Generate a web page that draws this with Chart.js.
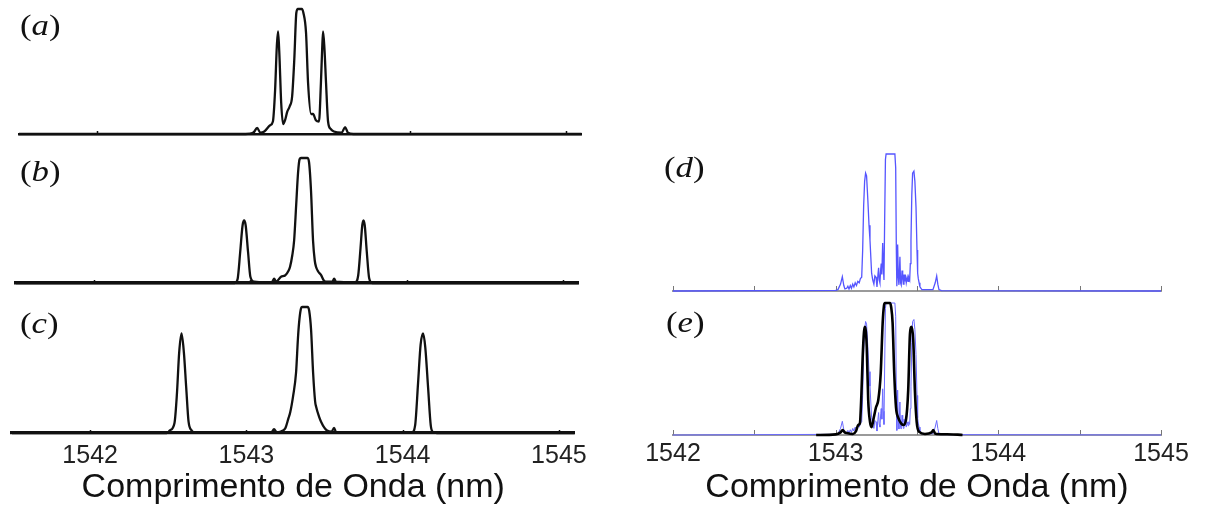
<!DOCTYPE html>
<html><head><meta charset="utf-8">
<script src="https://cdn.jsdelivr.net/npm/chart.js@4.4.1/dist/chart.umd.min.js"></script>
<style>
html,body{margin:0;padding:0;background:#fff;}
#wrap{position:relative;width:1205px;height:510px;overflow:hidden;background:#fff;}
canvas{position:absolute;left:0;top:0;}
.lbl{position:absolute;font-family:"Liberation Serif","DejaVu Serif",serif;font-size:29px;line-height:1;color:#111;transform:scaleX(1.2);transform-origin:left top;white-space:nowrap;}
</style></head><body>
<div id="wrap">
<canvas id="ca" width="1205" height="510"></canvas>
<canvas id="cb" width="1205" height="510"></canvas>
<canvas id="cc" width="1205" height="510"></canvas>
<canvas id="cd" width="1205" height="510"></canvas>
<canvas id="ce" width="1205" height="510"></canvas>
<div class="lbl" style="left:20px;top:11px">(<i>a</i>)</div>
<div class="lbl" style="left:20px;top:157px">(<i>b</i>)</div>
<div class="lbl" style="left:20px;top:309px">(<i>c</i>)</div>
<div class="lbl" style="left:664px;top:153px">(<i>d</i>)</div>
<div class="lbl" style="left:666px;top:308px">(<i>e</i>)</div>
</div>
<script>
// ---- data (wavelength in nm, normalised power) ----
const waveA  = [1541.50,1542.95,1543.00,1543.024,1543.045,1543.07,1543.107,1543.125,1543.139,1543.150,1543.158,1543.166,1543.178,1543.190,1543.205,1543.216,1543.232,1543.248,1543.262,1543.275,1543.285,1543.310,1543.320,1543.337,1543.350,1543.369,1543.382,1543.400,1543.420,1543.432,1543.440,1543.446,1543.455,1543.465,1543.478,1543.495,1543.515,1543.565,1543.587,1543.605,1543.64,1545.10];
const powerA = [0,0,0.01,0.048,0.01,0.02,0.07,0.10,0.35,0.70,0.82,0.65,0.25,0.08,0.12,0.175,0.22,0.30,0.60,0.97,1.0,1.0,0.97,0.81,0.41,0.16,0.16,0.11,0.10,0.40,0.67,0.82,0.68,0.41,0.10,0.04,0.02,0.01,0.055,0.01,0,0];

const waveB  = [1541.50,1542.90,1542.918,1542.935,1542.950,1542.960,1542.970,1542.985,1543.000,1543.024,1543.10,1543.140,1543.152,1543.165,1543.196,1543.222,1543.245,1543.254,1543.268,1543.280,1543.293,1543.305,1543.315,1543.324,1543.365,1543.375,1543.388,1543.401,1543.412,1543.420,1543.435,1543.452,1543.470,1543.490,1543.525,1543.536,1543.548,1543.670,1543.690,1543.705,1543.716,1543.724,1543.732,1543.745,1543.760,1543.78,1545.10];
const powerB = [0,0,0.03,0.25,0.46,0.50,0.46,0.25,0.05,0.01,0.005,0.01,0.035,0.01,0.05,0.06,0.10,0.13,0.22,0.34,0.62,0.88,0.99,1.0,1.0,0.97,0.74,0.34,0.18,0.13,0.09,0.065,0.02,0.01,0.01,0.035,0.01,0.005,0.06,0.28,0.46,0.50,0.46,0.25,0.04,0,0];

const waveC  = [1541.50,1542.49,1542.51,1542.540,1542.555,1542.570,1542.585,1542.600,1542.615,1542.630,1542.650,1542.67,1543.160,1543.177,1543.195,1543.235,1543.250,1543.270,1543.280,1543.300,1543.318,1543.330,1543.337,1543.348,1543.358,1543.392,1543.402,1543.414,1543.427,1543.440,1543.446,1543.465,1543.478,1543.500,1543.516,1543.545,1543.561,1543.575,1544.06,1544.080,1544.099,1544.115,1544.131,1544.145,1544.163,1544.180,1544.193,1544.22,1545.10];
const powerC = [0,0,0.02,0.08,0.30,0.64,0.79,0.64,0.36,0.09,0.02,0.005,0.005,0.03,0.005,0.02,0.04,0.12,0.16,0.30,0.48,0.75,0.87,0.98,1.0,1.0,0.97,0.82,0.48,0.25,0.21,0.13,0.09,0.04,0.02,0.01,0.04,0.005,0.005,0.06,0.40,0.70,0.79,0.68,0.36,0.06,0.01,0,0];

const waveSim  = [1542.00,1543.00,1543.014,1543.030,1543.041,1543.050,1543.057,1543.068,1543.075,1543.082,1543.090,1543.097,1543.105,1543.112,1543.120,1543.128,1543.136,1543.145,1543.152,1543.160,1543.166,1543.172,1543.178,1543.184,1543.190,1543.198,1543.205,1543.211,1543.221,1543.228,1543.235,1543.241,1543.248,1543.254,1543.260,1543.264,1543.268,1543.272,1543.277,1543.280,1543.284,1543.289,1543.293,1543.297,1543.301,1543.306,1543.310,1543.364,1543.369,1543.373,1543.376,1543.381,1543.385,1543.389,1543.395,1543.399,1543.403,1543.408,1543.412,1543.416,1543.420,1543.425,1543.428,1543.434,1543.440,1543.445,1543.449,1543.455,1543.459,1543.463,1543.468,1543.473,1543.481,1543.487,1543.494,1543.500,1543.504,1543.508,1543.513,1543.518,1543.530,1543.598,1543.612,1543.621,1543.628,1543.635,1543.65,1545.00];
const powerSim = [0,0.005,0.01,0.05,0.104,0.04,0.015,0.02,0.035,0.015,0.04,0.02,0.05,0.03,0.06,0.04,0.07,0.06,0.09,0.10,0.30,0.62,0.80,0.86,0.84,0.66,0.48,0.37,0.13,0.08,0.05,0.11,0.10,0.03,0.12,0.17,0.08,0.06,0.16,0.20,0.12,0.35,0.18,0.08,0.50,0.96,1.0,1.0,0.90,0.30,0.035,0.34,0.10,0.045,0.25,0.06,0.045,0.15,0.10,0.05,0.12,0.07,0.12,0.06,0.10,0.07,0.10,0.08,0.20,0.37,0.70,0.86,0.875,0.80,0.61,0.30,0.13,0.09,0.06,0.03,0.01,0.01,0.06,0.11,0.05,0.01,0.003,0];

const waveExp  = [1542.88,1543.00,1543.030,1543.043,1543.056,1543.068,1543.106,1543.125,1543.139,1543.149,1543.158,1543.166,1543.174,1543.180,1543.186,1543.191,1543.200,1543.211,1543.221,1543.235,1543.248,1543.262,1543.277,1543.289,1543.297,1543.303,1543.334,1543.341,1543.350,1543.360,1543.371,1543.385,1543.401,1543.416,1543.432,1543.446,1543.457,1543.467,1543.477,1543.487,1543.498,1543.514,1543.549,1543.590,1543.600,1543.612,1543.621,1543.75,1543.78];
const powerExp = [0,0.005,0.02,0.038,0.02,0.015,0.008,0.03,0.076,0.089,0.30,0.59,0.78,0.82,0.78,0.67,0.265,0.10,0.06,0.136,0.21,0.265,0.47,0.85,0.98,1.0,1.0,0.97,0.85,0.47,0.21,0.13,0.09,0.076,0.114,0.34,0.77,0.82,0.72,0.34,0.10,0.023,0.008,0.02,0.038,0.01,0.008,0.003,0];

const tickLeft   = [1542, 1543, 1544, 1545];
const tickRight  = [1542, 1542.5, 1543, 1543.5, 1544, 1544.5, 1545];
const labelRight = [1542, 1543, 1544, 1545];
const xTitle = 'Comprimento de Onda (nm)';

// ---- drawing ----
const tickMarkPlugin = {
  id: 'tickMarks',
  beforeDatasetsDraw(chart, args, o) {
    const sx = chart.scales.x, y0 = chart.chartArea.bottom, ctx = chart.ctx;
    ctx.save();
    ctx.strokeStyle = o.color; ctx.lineWidth = o.width;
    ctx.beginPath();
    o.values.forEach(v => {
      const px = Math.round(sx.getPixelForValue(v)) + 0.5;
      ctx.moveTo(px, y0); ctx.lineTo(px, y0 - o.len);
    });
    ctx.stroke(); ctx.restore();
  }
};

function panel(id, o) {
  const datasets = o.series.map(s => ({
    data: s.x.map((w, i) => ({x: w, y: s.y[i]})),
    borderColor: s.color, borderWidth: s.width, pointRadius: 0, fill: false,
    tension: s.smooth ? 0.4 : 0,
    cubicInterpolationMode: s.smooth ? 'monotone' : 'default',
    clip: false, order: s.order
  }));
  new Chart(document.getElementById(id), {
    type: 'line',
    data: {datasets},
    plugins: [tickMarkPlugin],
    options: {
      responsive: false, animation: false, devicePixelRatio: 1, events: [],
      layout: {padding: o.pad},
      plugins: {legend: {display: false}, tooltip: {enabled: false}, tickMarks: o.marks},
      scales: {
        x: {
          type: 'linear', min: o.min, max: o.max,
          grid: {display: false, drawTicks: false},
          border: {display: true, color: o.axisColor, width: o.axisWidth},
          afterBuildTicks: s => { s.ticks = o.labels.map(v => ({value: v})); },
          ticks: {display: o.showLabels, padding: o.tickPad || 0, color: '#222',
                  font: {family: "'Liberation Sans', Arial, sans-serif", size: o.tickSize || 23},
                  callback: v => String(v), maxRotation: 0, autoSkip: false},
          title: {display: o.showLabels, text: xTitle, color: '#111',
                  font: {family: "'Liberation Sans', Arial, sans-serif", size: 34},
                  padding: {top: 0, bottom: 1.5}},
          afterFit: s => { s.height = o.axisH; }
        },
        y: {display: false, min: 0, max: 1}
      }
    }
  });
}

panel('ca', {min: 1541.5, max: 1545.1, pad: {left: 19, right: 623.5, top: 9, bottom: 376},
  axisColor: '#111', axisWidth: 2.5, axisH: 0, showLabels: false, labels: tickLeft,
  marks: {values: tickLeft, color: '#111', width: 1.5, len: 3},
  series: [{x: waveA, y: powerA, color: '#111', width: 2.3, smooth: true, order: 0}]});

panel('cb', {min: 1541.5, max: 1545.1, pad: {left: 16, right: 626.5, top: 158, bottom: 227},
  axisColor: '#111', axisWidth: 3.5, axisH: 0, showLabels: false, labels: tickLeft,
  marks: {values: tickLeft, color: '#111', width: 1.5, len: 3},
  series: [{x: waveB, y: powerB, color: '#111', width: 2.3, smooth: true, order: 0}]});

panel('cc', {min: 1541.5, max: 1545.1, pad: {left: 12, right: 630.5, top: 307, bottom: 0},
  axisColor: '#111', axisWidth: 3.2, axisH: 77, showLabels: true, labels: tickLeft, tickPad: 8, tickSize: 25,
  marks: {values: tickLeft, color: '#111', width: 1.5, len: 3},
  series: [{x: waveC, y: powerC, color: '#111', width: 2.3, smooth: true, order: 0}]});

panel('cd', {min: 1542, max: 1545, pad: {left: 673, right: 44, top: 154, bottom: 219},
  axisColor: '#9a9a9a', axisWidth: 2, axisH: 0, showLabels: false, labels: labelRight,
  marks: {values: tickRight, color: '#777', width: 1, len: 5},
  series: [{x: waveSim, y: powerSim, color: '#5555ff', width: 1.3, smooth: false, order: 0}]});

panel('ce', {min: 1542, max: 1545, pad: {left: 673, right: 44, top: 303, bottom: 0},
  axisColor: '#9a9a9a', axisWidth: 2, axisH: 75, showLabels: true, labels: labelRight, tickPad: 4, tickSize: 25,
  marks: {values: tickRight, color: '#777', width: 1, len: 5},
  series: [{x: waveExp, y: powerExp, color: '#000', width: 2.6, smooth: true, order: 0},
           {x: waveSim, y: powerSim, color: '#6a6aff', width: 1, smooth: false, order: 1}]});
</script>
</body></html>
